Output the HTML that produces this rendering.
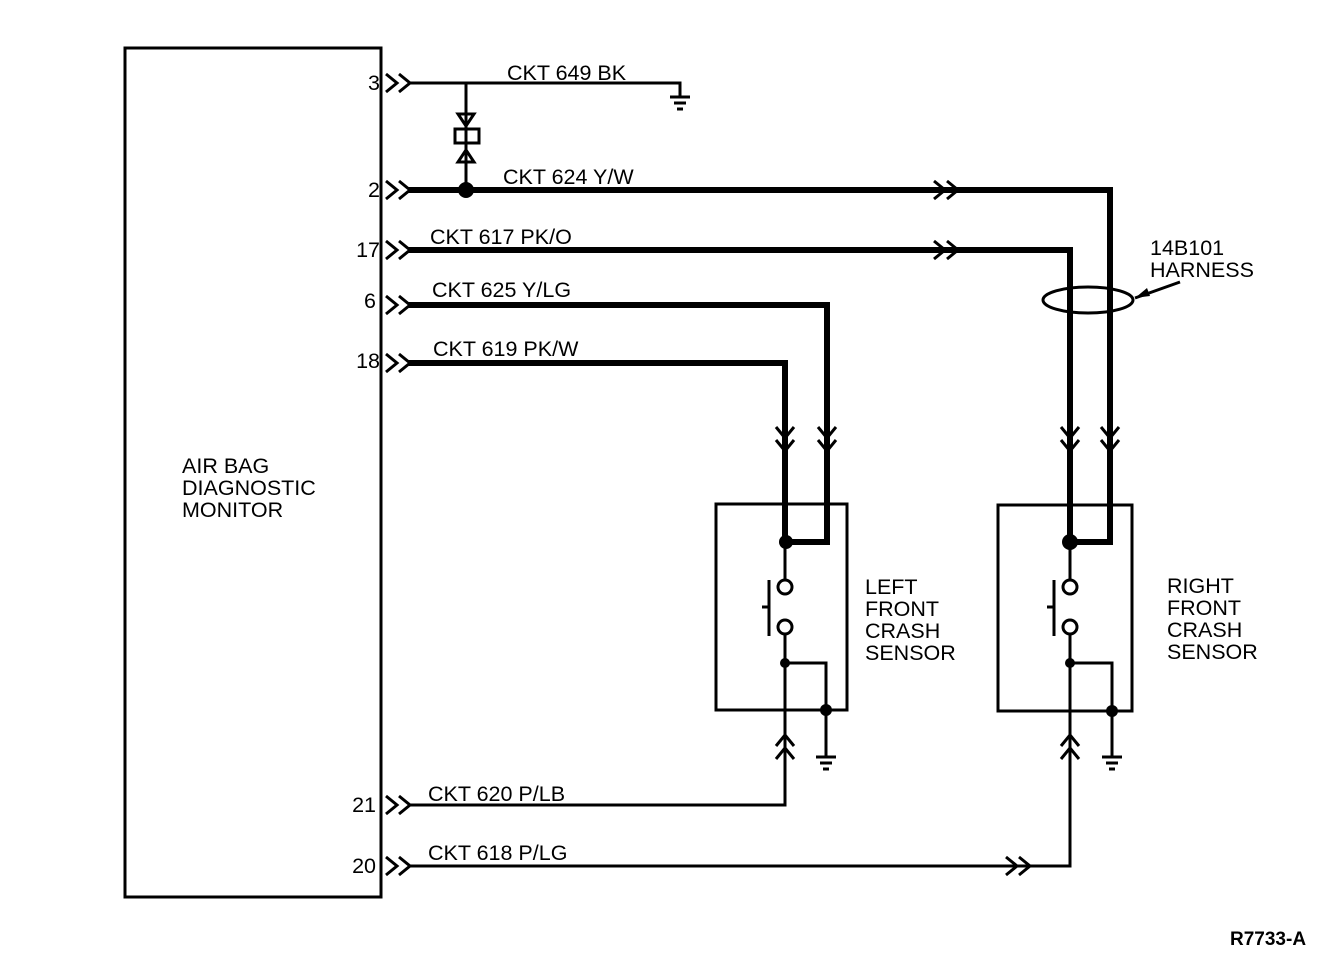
<!DOCTYPE html>
<html><head><style>body{margin:0;background:#fff}svg{display:block}text{font-family:"Liberation Sans",Arial,sans-serif;font-size:21.5px;fill:#000}</style></head>
<body>
<svg width="1344" height="964" viewBox="0 0 1344 964" xmlns="http://www.w3.org/2000/svg">
<g fill="none" stroke="#000" stroke-width="3">
<rect x="125" y="48" width="256" height="849"/>
<g stroke-width="3">
<path d="M386 74l11 9-11 9M399 74l11 9-11 9"/>
<path d="M386 181l11 9-11 9M399 181l11 9-11 9"/>
<path d="M386 241l11 9-11 9M399 241l11 9-11 9"/>
<path d="M386 296l11 9-11 9M399 296l11 9-11 9"/>
<path d="M386 354l11 9-11 9M399 354l11 9-11 9"/>
<path d="M386 796l11 9-11 9M399 796l11 9-11 9"/>
<path d="M386 857l11 9-11 9M399 857l11 9-11 9"/>
<path d="M934 181l11 9-11 9M947 181l11 9-11 9"/>
<path d="M934 241l11 9-11 9M947 241l11 9-11 9"/>
<path d="M1006 857l11 9-11 9M1019 857l11 9-11 9"/>
<path d="M776 427l9 11 9-11M776 440l9 11 9-11"/>
<path d="M818 427l9 11 9-11M818 440l9 11 9-11"/>
<path d="M1061 427l9 11 9-11M1061 440l9 11 9-11"/>
<path d="M1101 427l9 11 9-11M1101 440l9 11 9-11"/>
<path d="M776 746l9-11 9 11M776 759l9-11 9 11"/>
<path d="M1061 746l9-11 9 11M1061 759l9-11 9 11"/>
</g>
<path d="M408 83H680V96"/>
<path d="M670 97h20M674 103h12M677 109h6"/>
<path d="M466 83V190"/>
<path d="M458 114h16l-8 12z"/>
<rect x="455" y="129" width="24" height="14"/>
<path d="M458 162h16l-8-12z"/>
<path d="M408 805H785V735"/>
<path d="M408 866H1070V735"/>
<g stroke-width="6">
<path d="M408 190H1110V545"/>
<path d="M408 250H1070V542"/>
<path d="M408 305H827V542H785"/>
<path d="M408 363H785V542"/>
<path d="M1070 542H1110"/>
</g>
<rect x="716" y="504" width="131" height="206"/>
<path d="M785 542V580M785 634V750M785 663H826V756"/>
<circle cx="785" cy="587" r="7" fill="#fff"/>
<circle cx="785" cy="627" r="7" fill="#fff"/>
<path d="M769 580V636M762 607h7"/>
<path d="M816 757h20M820 763h12M823 769h6"/>
<rect x="998" y="505" width="134" height="206"/>
<path d="M1070 542V580M1070 634V750M1070 663H1112V756"/>
<circle cx="1070" cy="587" r="7" fill="#fff"/>
<circle cx="1070" cy="627" r="7" fill="#fff"/>
<path d="M1054 580V636M1047 607h7"/>
<path d="M1102 757h20M1106 763h12M1109 769h6"/>
<ellipse cx="1088" cy="300" rx="45" ry="13"/>
<path d="M1180 282L1135 298"/>
</g>
<g fill="#000">
<circle cx="466" cy="190" r="8"/>
<circle cx="786" cy="542" r="7"/><circle cx="785" cy="663" r="5"/><circle cx="826" cy="710" r="6"/>
<circle cx="1070" cy="542" r="8"/><circle cx="1070" cy="663" r="5"/><circle cx="1112" cy="711" r="6"/>
<path d="M1135 298l12-10 3 8z"/>
</g>
<g text-anchor="end">
<text x="380" y="90">3</text><text x="380" y="197">2</text><text x="380" y="257">17</text>
<text x="376" y="308">6</text><text x="380" y="368">18</text><text x="376" y="812">21</text><text x="376" y="873">20</text>
</g>
<text x="507" y="80">CKT 649 BK</text>
<text x="503" y="184">CKT 624 Y/W</text>
<text x="430" y="244">CKT 617 PK/O</text>
<text x="432" y="297">CKT 625 Y/LG</text>
<text x="433" y="356">CKT 619 PK/W</text>
<text x="428" y="801">CKT 620 P/LB</text>
<text x="428" y="860">CKT 618 P/LG</text>
<text x="182" y="473">AIR BAG</text>
<text x="182" y="495">DIAGNOSTIC</text>
<text x="182" y="517">MONITOR</text>
<text x="865" y="594">LEFT</text><text x="865" y="616">FRONT</text><text x="865" y="638">CRASH</text><text x="865" y="660">SENSOR</text>
<text x="1167" y="593">RIGHT</text><text x="1167" y="615">FRONT</text><text x="1167" y="637">CRASH</text><text x="1167" y="659">SENSOR</text>
<text x="1150" y="255">14B101</text><text x="1150" y="277">HARNESS</text>
<text x="1230" y="945" style="font-weight:bold;font-size:19px">R7733-A</text>
</svg>
</body></html>
